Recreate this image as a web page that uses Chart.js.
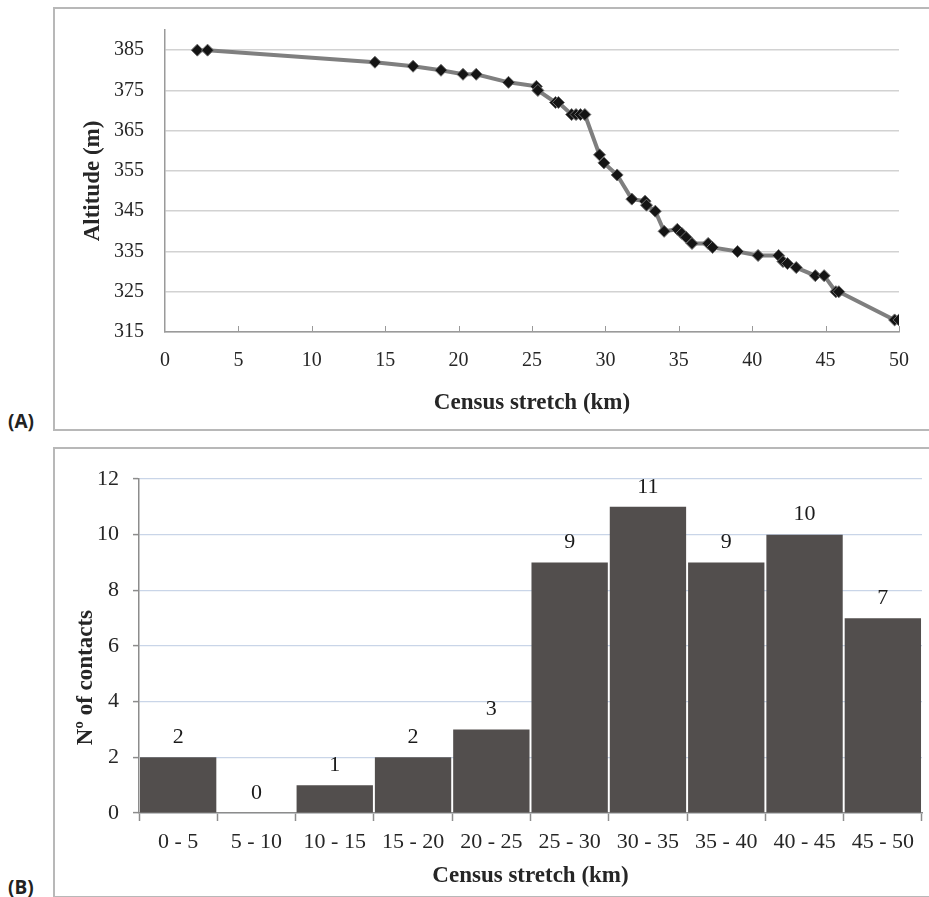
<!DOCTYPE html>
<html>
<head>
<meta charset="utf-8">
<script src="https://cdn.jsdelivr.net/npm/chart.js@4/dist/chart.umd.min.js"></script>
<style>
  body { margin: 0; background: #fff; width: 929px; height: 897px; overflow: hidden; position: relative; }
  .frame { position: absolute; left: 53px; width: 900px; border: 2px solid #b8b8b8; box-sizing: border-box; }
  canvas { position: absolute; left: 53px; }
  .tag { position: absolute; left: 8px; font: bold 19px 'Open Sans', sans-serif; color: #222; }
</style>
</head>
<body>
<div class="frame" style="top:7px;height:424px"></div>
<div class="frame" style="top:447px;height:451px"></div>
<canvas id="altChart" width="876" height="422" style="top:8px"></canvas>
<canvas id="barChart" width="876" height="448" style="top:448px"></canvas>
<div class="tag" style="top:408px">(A)</div>
<div class="tag" style="top:874px">(B)</div>
<script>
// panel A: altitude along the census stretch
var stretchKm = [2.2, 2.9, 14.3, 16.9, 18.8, 20.3, 21.2, 23.4, 25.3, 25.4, 26.6, 26.8,
  27.7, 28.0, 28.3, 28.6, 29.6, 29.9, 30.8, 31.8, 32.7, 32.8, 33.4, 34.0, 34.9, 35.2,
  35.5, 35.9, 37.0, 37.3, 39.0, 40.4, 41.8, 42.1, 42.4, 43.0, 44.3, 44.9, 45.7, 45.9, 49.7, 50.0];
var altitude = [385, 385, 382, 381, 380, 379, 379, 377, 376, 375, 372, 372,
  369, 369, 369, 369, 359, 357, 354, 348, 347.5, 346.5, 345, 340, 340.5, 339.5,
  338.5, 337, 337, 336, 335, 334, 334, 332.5, 332, 331, 329, 329, 325, 325, 318, 318];
var altTicks = [315, 325, 335, 345, 355, 365, 375, 385];

// panel B: contacts per 5 km stretch
var stretchBins = ['0 - 5', '5 - 10', '10 - 15', '15 - 20', '20 - 25', '25 - 30', '30 - 35', '35 - 40', '40 - 45', '45 - 50'];
var contacts = [2, 0, 1, 2, 3, 9, 11, 9, 10, 7];

Chart.defaults.font.family = "'Liberation Serif', 'Times New Roman', serif";
Chart.defaults.color = '#262626';

// small tick marks pointing up from the x axis
var insideTicks = {
  id: 'insideTicks',
  beforeDatasetsDraw: function(chart) {
    var xs = chart.scales.x, ctx = chart.ctx, y0 = chart.chartArea.bottom;
    ctx.save();
    ctx.strokeStyle = '#9a9a9a';
    ctx.lineWidth = 1;
    xs.ticks.forEach(function(t) {
      if (t.value === 0) return;
      var px = Math.round(xs.getPixelForValue(t.value)) + 0.5;
      ctx.beginPath();
      ctx.moveTo(px, y0);
      ctx.lineTo(px, y0 - 6);
      ctx.stroke();
    });
    ctx.restore();
  }
};

// value written above each bar
var barValues = {
  id: 'barValues',
  afterDatasetsDraw: function(chart) {
    var ctx = chart.ctx, meta = chart.getDatasetMeta(0);
    ctx.save();
    ctx.font = "22px 'Liberation Serif', serif";
    ctx.fillStyle = '#1a1a1a';
    ctx.textAlign = 'center';
    ctx.textBaseline = 'middle';
    meta.data.forEach(function(bar, i) {
      ctx.fillText(contacts[i], bar.x, bar.y - 20);
    });
    ctx.restore();
  }
};

new Chart(document.getElementById('altChart'), {
  type: 'scatter',
  data: {
    datasets: [{
      data: stretchKm.map(function(x, i) { return {x: x, y: altitude[i]}; }),
      showLine: true,
      borderColor: '#7f7f7f',
      borderWidth: 4,
      pointStyle: 'rectRot',
      pointRadius: 6,
      pointBackgroundColor: '#141414',
      pointBorderColor: '#6e6e6e',
      pointBorderWidth: 1
    }]
  },
  options: {
    responsive: false,
    animation: false,
    layout: { padding: { left: 0, top: 22, right: 30, bottom: 0 } },
    plugins: { legend: { display: false }, tooltip: { enabled: false } },
    scales: {
      x: {
        type: 'linear',
        min: 0, max: 50,
        ticks: { stepSize: 5, padding: 17, font: { size: 20 } },
        grid: { display: false, drawTicks: false },
        border: { display: true, color: '#9a9a9a', width: 1.5 },
        title: { display: true, text: 'Census stretch (km)', font: { size: 23, weight: 'bold' }, padding: { top: 0, bottom: 13 } },
        afterFit: function(s) { s.height = 98; }
      },
      y: {
        min: 315, max: 390,
        afterBuildTicks: function(s) { s.ticks = altTicks.map(function(v) { return {value: v}; }); },
        ticks: { padding: 21, font: { size: 20 } },
        grid: { color: '#d2d2d2', lineWidth: 1.5, drawTicks: false },
        border: { display: true, color: '#9a9a9a', width: 1.5 },
        title: { display: true, text: 'Altitude (m)', font: { size: 23, weight: 'bold' }, padding: { top: 26, bottom: 0 } },
        afterFit: function(s) { s.width = 112; s.paddingTop = 10; s.paddingBottom = 10; }
      }
    }
  },
  plugins: [insideTicks]
});

new Chart(document.getElementById('barChart'), {
  type: 'bar',
  data: {
    labels: stretchBins,
    datasets: [{
      data: contacts,
      backgroundColor: '#524e4d',
      barPercentage: 0.975,
      categoryPercentage: 1
    }]
  },
  options: {
    responsive: false,
    animation: false,
    layout: { padding: { left: 0, top: 31, right: 7, bottom: 0 } },
    plugins: { legend: { display: false }, tooltip: { enabled: false } },
    scales: {
      x: {
        ticks: { padding: 8, font: { size: 22 }, maxRotation: 0, autoSkip: false },
        grid: { display: true, drawOnChartArea: false, tickLength: 8, tickColor: '#8c8c8c', tickWidth: 1.5 },
        border: { display: true, color: '#8c8c8c', width: 1.5 },
        title: { display: true, text: 'Census stretch (km)', font: { size: 23, weight: 'bold' }, padding: { top: 0, bottom: 6 } },
        afterFit: function(s) { s.height = 83; }
      },
      y: {
        min: 0, max: 12,
        ticks: { stepSize: 2, padding: 14, font: { size: 22 } },
        grid: { color: '#c9d5e8', lineWidth: 1.2, borderDash: [1, 2], tickLength: 6, tickColor: '#8c8c8c', tickWidth: 1.5, tickBorderDash: [] },
        border: { display: true, color: '#8c8c8c', width: 1.5 },
        title: { display: true, text: 'Nº of contacts' + '\u00a0'.repeat(11), font: { size: 23, weight: 'bold' }, padding: { top: 19, bottom: 0 } },
        afterFit: function(s) { s.width = 86; }
      }
    }
  },
  plugins: [barValues]
});
</script>
</body>
</html>
